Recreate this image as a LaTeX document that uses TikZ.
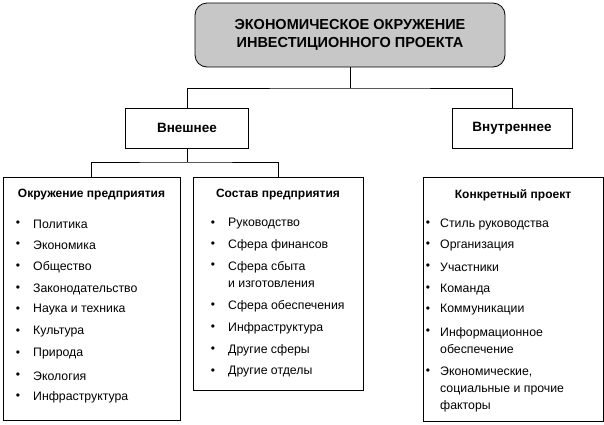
\documentclass[tikz,border=0pt]{standalone}
\usepackage{fontspec}
\setmainfont{Liberation Sans}
\usetikzlibrary{positioning}
\tikzset{box/.style={draw, thick, inner sep=0pt},
  entry/.style={anchor=west, inner sep=0pt, font=\fontsize{12.3}{17}\selectfont, align=left},
  head/.style={inner sep=0pt, font=\bfseries\fontsize{12}{14}\selectfont},
  dot/.style={inner sep=0pt, font=\fontsize{12}{13}\selectfont}}
\begin{document}
\begin{tikzpicture}[x=1pt, y=-1pt]
\useasboundingbox (0,0) rectangle (604,424);
% top
\node (top) [box, fill=black!22, rounded corners=12pt, minimum width=310pt, minimum height=64pt, align=center,
  font=\bfseries\fontsize{14.5}{18}\selectfont] at (350,35) {ЭКОНОМИЧЕСКОЕ ОКРУЖЕНИЕ\\ИНВЕСТИЦИОННОГО ПРОЕКТА};
\node (ext) [box, minimum width=123pt, minimum height=40pt, font=\bfseries\fontsize{13.5}{15}\selectfont] at (187,128) {Внешнее};
\node (int) [box, minimum width=120pt, minimum height=40pt, font=\bfseries\fontsize{13.5}{15}\selectfont] at (512,128) {Внутреннее};
\node (env) [box, minimum width=177pt, minimum height=243pt] at (91.5,298.5) {};
\node (comp) [box, minimum width=170pt, minimum height=213pt] at (278,283.5) {};
\node (proj) [box, minimum width=180pt, minimum height=244pt] at (513,299) {};
% connectors
\coordinate (j1) at (350,88);
\coordinate (j2) at (187,162);
\draw[thick] (top) -- (j1);
\draw[thick] (ext.north) |- (j1) -| (int.north);
\draw[thick] (ext) -- (j2);
\draw[thick] (env.north) |- (j2) -| (comp.north);
% headers
\node[head] at (env.north |- 0,195) {Окружение предприятия};
\node[head] at (comp.north |- 0,195) {Состав предприятия};
\node[head] at (proj.north |- 0,195) {Конкретный проект};
% lists
\foreach \y/\t in {224/Политика, 245/Экономика, 267/Общество, 289/Законодательство, 310/Наука и техника,
  332/Культура, 354/Природа, 376/Экология, 397/Инфраструктура}{
  \node[dot] at (18,\y) {\textbullet}; \node[entry] at (33,\y) {\t};}
\foreach \y/\t in {224/Руководство, 245/Сфера финансов, 274.5/{Сфера сбыта\\и изготовления}, 306/Сфера обеспечения,
  328/Инфраструктура, 350/Другие сферы, 372/Другие отделы}{
  \node[entry] at (228,\y) {\t};}
\foreach \y in {224,245,266,306,328,350,372}{\node[dot] at (213,\y) {\textbullet};}
\foreach \y/\t in {224/Стиль руководства, 245/Организация, 267/Участники, 289/Команда, 310/Коммуникации,
  340.5/{Информационное\\обеспечение}, 389.5/{Экономические,\\социальные и прочие\\факторы}}{
  \node[entry] at (440,\y) {\t};}
\foreach \y in {224,245,267,289,310,332,372}{\node[dot] at (428,\y) {\textbullet};}
\end{tikzpicture}
\end{document}
